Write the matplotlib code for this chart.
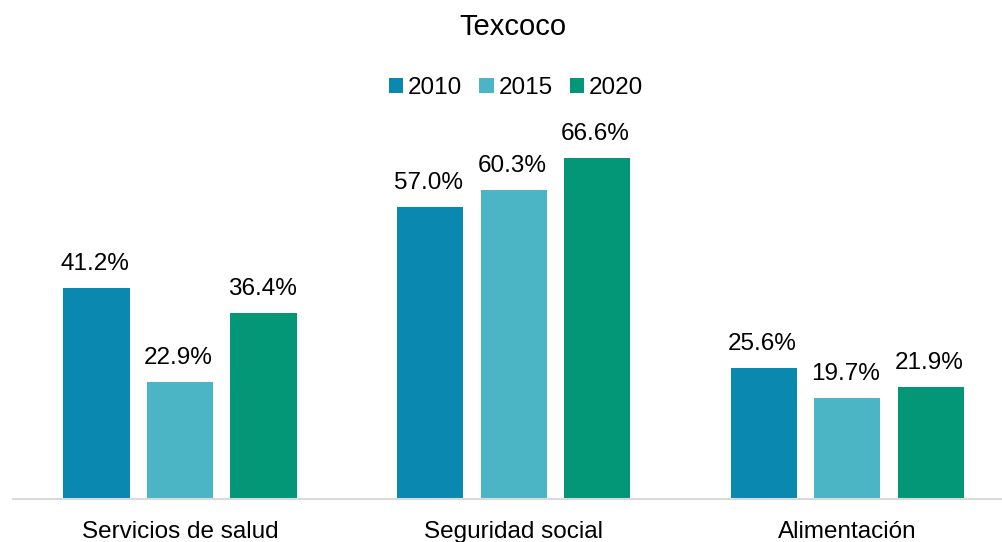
import matplotlib
matplotlib.use("Agg")
import matplotlib.pyplot as plt
import numpy as np

categories = ["Servicios de salud", "Seguridad social", "Alimentación"]
years = ["2010", "2015", "2020"]
v2010 = [41.2, 57.0, 25.6]
v2015 = [22.9, 60.3, 19.7]
v2020 = [36.4, 66.6, 21.9]
series = [v2010, v2015, v2020]
colors = ["#0A88B0", "#4BB5C6", "#039677"]

plt.rcParams['font.family'] = ['Liberation Sans', 'DejaVu Sans']

W, H = 1002, 542
fig = plt.figure(figsize=(W / 100, H / 100), dpi=100)
base_y = 499
top_y = 100
ax = fig.add_axes([13 / W, (H - base_y) / H, (1002 - 13) / W, (base_y - top_y) / H])

px_per_unit = 5.12
ax.set_ylim(0, (base_y - top_y) / px_per_unit)
spacing = 333.5
left_px = 180 - 13
ax.set_xlim(-left_px / spacing, -left_px / spacing + (1002 - 13) / spacing)

x = np.arange(len(categories))
step = 83.5 / spacing
width = 66 / spacing
for i, (vals, c, yr) in enumerate(zip(series, colors, years)):
    pos = x + (i - 1) * step
    bars = ax.bar(pos, vals, width=width, color=c, label=yr)
    for b, v in zip(bars, vals):
        ax.annotate(f"{v:.1f}%", (b.get_x() + b.get_width() / 2, v),
                    xytext=(-1, 13), textcoords="offset points",
                    ha="center", va="baseline", fontsize=17.5, color="#000000")

for s in ["top", "right", "left"]:
    ax.spines[s].set_visible(False)
ax.spines["bottom"].set_color("#D9D9D9")
ax.spines["bottom"].set_linewidth(1.5)
ax.set_yticks([])
ax.set_xticks(x)
ax.set_xticklabels(categories, fontsize=17.5)
ax.tick_params(axis="x", length=0, pad=16)

fig.text(0.512, 1 - 27 / H, "Texcoco", ha="center", va="center", fontsize=21)
fig.legend(loc="center", bbox_to_anchor=(516 / W, 1 - 88 / H), ncol=3, frameon=False,
           fontsize=17.5, handlelength=0.6, handleheight=0.6, handletextpad=0.2,
           columnspacing=0.7, borderaxespad=0)

fig.savefig("out.png", dpi=100)
